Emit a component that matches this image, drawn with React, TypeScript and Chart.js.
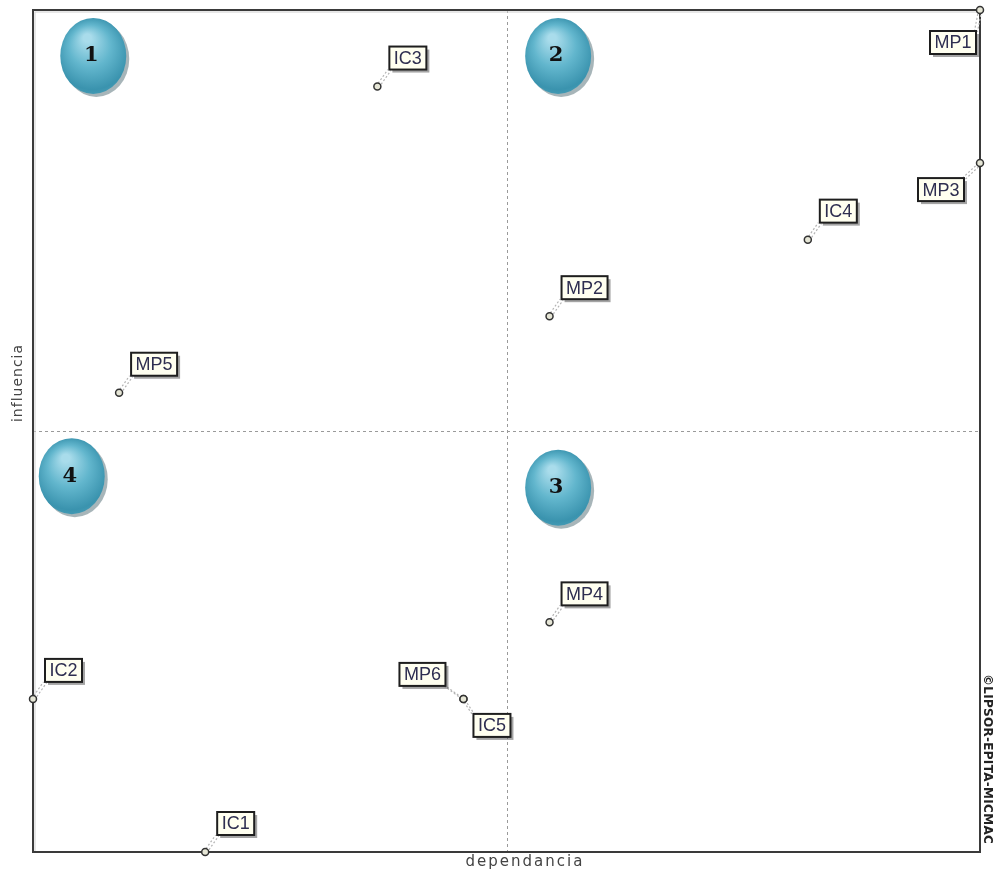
import React, { useEffect, useRef } from "react";
import { Chart, registerables } from "chart.js";

Chart.register(...registerables);

// Variables (MICMAC direct influence / dependence map)
const names = ["MP1", "IC3", "MP3", "IC4", "MP2", "MP5", "MP4", "IC2", "MP6", "IC5", "IC1"];
const dependance = [11, 4, 11, 9, 6, 1, 6, 0, 5, 5, 2];
const influence = [11, 10, 9, 8, 7, 6, 3, 2, 2, 2, 0];
// label placement relative to point
const labelSide = ["s", "ne", "sw", "ne", "ne", "ne", "ne", "ne", "nw", "se", "ne"];

const axisMin = 0;
const axisMax = 11;
const axisMid = 5.5;

const quadrantNumbers = ["1", "2", "3", "4"];
const quadrantX = [0.7, 6.1, 6.1, 0.45];
const quadrantY = [10.4, 10.4, 4.76, 4.91];

const xTitle = "dependancia";
const yTitle = "influencia";
const copyright = "©LIPSOR-EPITA-MICMAC";

const LABEL_FONT = "18px 'Liberation Sans', Arial, sans-serif";

const overlayPlugin = {
  id: "micmacOverlay",
  beforeDatasetsDraw(chart: any) {
    const { ctx, chartArea, scales } = chart;
    const xs = scales.x;
    const ys = scales.y;
    ctx.save();
    // dashed mid lines
    ctx.strokeStyle = "#9a9a9a";
    ctx.lineWidth = 1;
    ctx.setLineDash([3, 3]);
    const mx = Math.round(xs.getPixelForValue(axisMid)) + 0.5;
    const my = Math.round(ys.getPixelForValue(axisMid)) + 0.5;
    ctx.beginPath();
    ctx.moveTo(mx, chartArea.top);
    ctx.lineTo(mx, chartArea.bottom);
    ctx.moveTo(chartArea.left, my);
    ctx.lineTo(chartArea.right, my);
    ctx.stroke();
    ctx.setLineDash([]);

    // frame
    ctx.strokeStyle = "#cfcfcf";
    ctx.lineWidth = 1;
    ctx.strokeRect(chartArea.left + 2, chartArea.top + 2, chartArea.right - chartArea.left - 2, chartArea.bottom - chartArea.top - 2);
    ctx.strokeStyle = "#3a3a3a";
    ctx.lineWidth = 2;
    ctx.strokeRect(chartArea.left, chartArea.top, chartArea.right - chartArea.left, chartArea.bottom - chartArea.top);

    // quadrant badges
    for (let i = 0; i < quadrantNumbers.length; i++) {
      const cx = xs.getPixelForValue(quadrantX[i]);
      const cy = ys.getPixelForValue(quadrantY[i]);
      const rx = 33;
      const ry = 38;
      ctx.fillStyle = "rgba(60,90,100,0.45)";
      ctx.beginPath();
      ctx.ellipse(cx + 3, cy + 3, rx, ry, 0, 0, Math.PI * 2);
      ctx.fill();
      const g = ctx.createRadialGradient(cx - 6, cy - 18, 4, cx, cy, ry + 4);
      g.addColorStop(0, "#a9dceb");
      g.addColorStop(0.45, "#62b6cd");
      g.addColorStop(0.85, "#3a93ae");
      g.addColorStop(1, "#4a9fb8");
      ctx.fillStyle = g;
      ctx.beginPath();
      ctx.ellipse(cx, cy, rx, ry, 0, 0, Math.PI * 2);
      ctx.fill();
      ctx.fillStyle = "#111";
      ctx.font = "bold 21px 'DejaVu Serif', 'Liberation Serif', serif";
      ctx.textAlign = "center";
      ctx.textBaseline = "middle";
      ctx.fillText(quadrantNumbers[i], cx - 2, cy);
    }

    // leader lines
    const boxes = computeBoxes(chart);
    chart.$labelBoxes = boxes;
    for (const b of boxes) {
      ctx.strokeStyle = "#b4b4b4";
      ctx.lineWidth = 1.2;
      ctx.setLineDash([2, 2]);
      ctx.beginPath();
      ctx.moveTo(b.px - 1.5, b.py);
      ctx.lineTo(b.ax - 1.5, b.ay);
      ctx.moveTo(b.px + 1.5, b.py + 1);
      ctx.lineTo(b.ax + 1.5, b.ay + 1);
      ctx.stroke();
      ctx.setLineDash([]);
    }

    // titles
    ctx.fillStyle = "#444";
    ctx.font = "15px 'DejaVu Sans', Verdana, sans-serif";
    ctx.textAlign = "center";
    ctx.textBaseline = "middle";
    (ctx as any).letterSpacing = "2px";
    ctx.fillText(xTitle, 525, 862);
    ctx.font = "14px 'DejaVu Sans', Verdana, sans-serif";
    (ctx as any).letterSpacing = "1px";
    ctx.save();
    ctx.translate(18, 383);
    ctx.rotate(-Math.PI / 2);
    ctx.fillText(yTitle, 0, 0);
    ctx.restore();
    ctx.font = "bold 12px 'DejaVu Sans', Verdana, sans-serif";
    (ctx as any).letterSpacing = "0.3px";
    ctx.fillStyle = "#222";
    ctx.save();
    ctx.translate(987, 759);
    ctx.rotate(Math.PI / 2);
    ctx.fillText(copyright, 0, 0);
    ctx.restore();
    (ctx as any).letterSpacing = "0px";
    ctx.restore();
  },
  afterDatasetsDraw(chart: any) {
    const { ctx } = chart;
    const boxes = chart.$labelBoxes || computeBoxes(chart);
    ctx.save();
    for (const b of boxes) {
      ctx.fillStyle = "rgba(90,90,90,0.55)";
      ctx.fillRect(b.x + 3, b.y + 3, b.w, b.h);
      ctx.fillStyle = "#fffff0";
      ctx.fillRect(b.x, b.y, b.w, b.h);
      ctx.strokeStyle = "#1e1e1e";
      ctx.lineWidth = 2;
      ctx.strokeRect(b.x, b.y, b.w, b.h);
      ctx.fillStyle = "#2e2e50";
      ctx.font = LABEL_FONT;
      ctx.textAlign = "center";
      ctx.textBaseline = "middle";
      ctx.fillText(b.text, b.x + b.w / 2, b.y + b.h / 2 + 1);
    }
    ctx.restore();
  },
};

function computeBoxes(chart: any) {
  const { ctx, scales } = chart;
  ctx.save();
  ctx.font = LABEL_FONT;
  const out: any[] = [];
  for (let i = 0; i < names.length; i++) {
    const px = scales.x.getPixelForValue(dependance[i]);
    const py = scales.y.getPixelForValue(influence[i]);
    const w = Math.round(ctx.measureText(names[i]).width) + 9;
    const h = 23;
    let x = 0, y = 0, ax = 0, ay = 0;
    switch (labelSide[i]) {
      case "ne":
        x = px + 12; y = py - 17 - h; ax = x; ay = y + h; break;
      case "sw":
        x = px - 16 - w; y = py + 15; ax = x + w; ay = y; break;
      case "s":
        x = px - 4 - w; y = py + 21; ax = x + w; ay = y; break;
      case "nw":
        x = px - 18 - w; y = py - 13 - h; ax = x + w; ay = y + h; break;
      case "se":
        x = px + 10; y = py + 15; ax = x; ay = y; break;
    }
    out.push({ px, py, x, y, w, h, ax, ay, text: names[i] });
  }
  ctx.restore();
  return out;
}

export default function App() {
  const ref = useRef<HTMLCanvasElement | null>(null);
  useEffect(() => {
    if (!ref.current) return;
    const chart = new Chart(ref.current, {
      type: "scatter",
      data: {
        datasets: [
          {
            data: names.map((_, i) => ({ x: dependance[i], y: influence[i] })),
            pointStyle: "circle",
            pointRadius: 3.5,
            pointBackgroundColor: "#e6e6d6",
            pointBorderColor: "#333",
            pointBorderWidth: 1.5,
            clip: false as any,
          },
        ],
      },
      options: {
        responsive: false,
        animation: false,
        layout: { padding: { left: 33, right: 16, top: 10, bottom: 23 } },
        scales: {
          x: { type: "linear", min: axisMin, max: axisMax, display: false },
          y: { type: "linear", min: axisMin, max: axisMax, display: false },
        },
        plugins: {
          legend: { display: false },
          tooltip: { enabled: false },
        },
      },
      plugins: [overlayPlugin],
    });
    return () => chart.destroy();
  }, []);
  return (
    <div style={{ position: "absolute", left: 0, top: 0, width: 996, height: 875, background: "#fff" }}>
      <canvas ref={ref} width={996} height={875} style={{ display: "block" }} />
    </div>
  );
}
